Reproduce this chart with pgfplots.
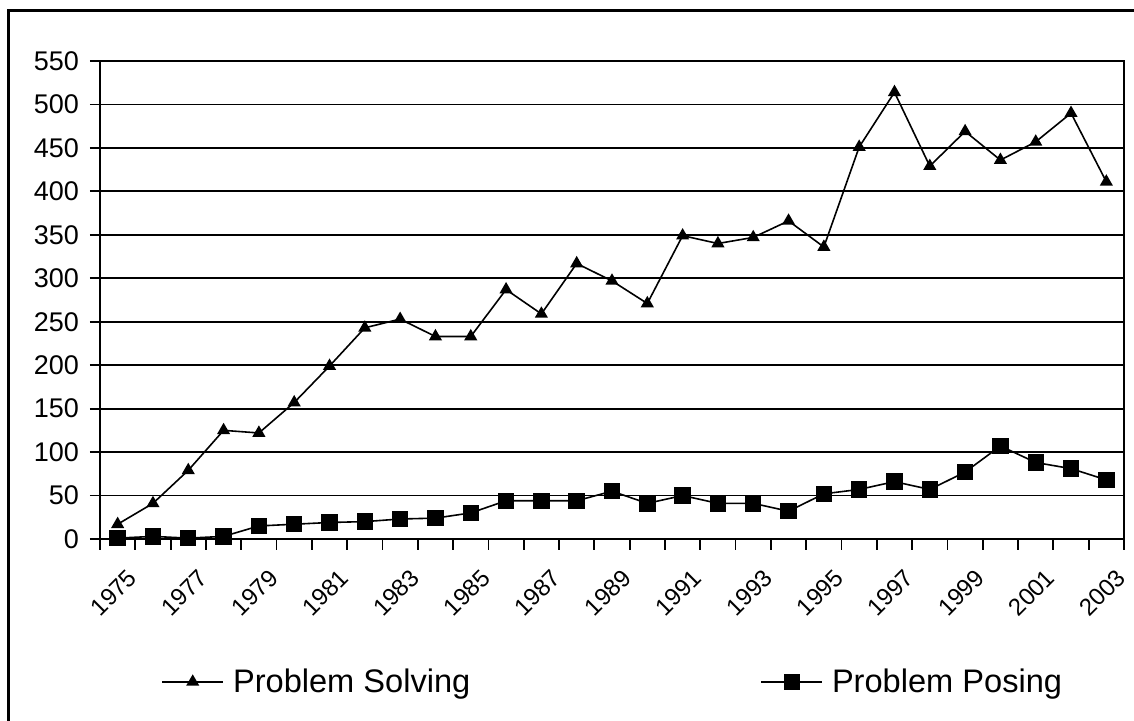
\documentclass[border=0pt]{standalone}
\usepackage{pgfplots}
\pgfplotsset{compat=1.18}
\usepackage{fontspec}
\setmainfont{Liberation Sans}
\pgfplotstableread{
i year solving posing
0 1975 17 1
1 1976 41 3
2 1977 79 1
3 1978 125 3
4 1979 122 15
5 1980 157 17
6 1981 199 19
7 1982 243 20
8 1983 253 23
9 1984 233 24
10 1985 233 30
11 1986 287 44
12 1987 259 44
13 1988 317 44
14 1989 297 55
15 1990 271 41
16 1991 349 50
17 1992 340 41
18 1993 347 41
19 1994 366 32
20 1995 336 52
21 1996 451 57
22 1997 514 66
23 1998 429 57
24 1999 469 77
25 2000 436 107
26 2001 457 88
27 2002 490 81
28 2003 411 68
}\datatable
\begin{document}
\begin{tikzpicture}
\begin{axis}[
  at={(0pt,0pt)}, anchor=south west,
  scale only axis,
  width=512pt, height=239pt,
  xmin=-0.5, xmax=28.5,
  ymin=0, ymax=550,
  ytick={0,50,...,550},
  xtick={0,2,...,28},
  xticklabels={1975,1977,1979,1981,1983,1985,1987,1989,1991,1993,1995,1997,1999,2001,2003},
  minor xtick={-0.5,0.5,...,28.5},
  xtick style={draw=none},
  minor x tick style={draw=black, line width=0.9pt},
  ytick style={draw=black, line width=0.9pt},
  tick align=outside,
  tick pos=left,
  major tick length=5pt,
  minor tick length=5.5pt,
  ymajorgrids,
  grid style={black, line width=0.9pt},
  axis line style={black, line width=0.9pt},
  /pgf/number format/assume math mode=true,
  yticklabel style={font=\fontsize{13.5}{16}\selectfont, xshift=-2pt},
  xticklabel style={font=\fontsize{12}{14}\selectfont, rotate=45, anchor=east, inner sep=0pt, yshift=-14pt, xshift=-3.3pt},
  legend columns=2,
  legend style={draw=none, fill=none, at={(rel axis cs:0.0596,-0.299)}, anchor=west,
    font=\fontsize{16.3}{19}\selectfont, inner sep=0pt, nodes={inner sep=0pt},
    /tikz/every odd column/.append style={column sep=4.5pt},
    /tikz/every even column/.append style={column sep=145pt}},
  legend image code/.code={
    \draw[black, line width=0.8pt] (0pt,0pt) -- (30.5pt,0pt);
    \draw[#1, mark repeat=1] plot coordinates {(15.25pt,0pt)};
  },
]
\addplot[black, line width=0.8pt, mark=triangle*, mark size=3pt] table[x=i, y=solving] {\datatable};
\addlegendentry{Problem Solving}
\addplot[black, line width=0.8pt, mark=square*, mark size=3.7pt] table[x=i, y=posing] {\datatable};
\addlegendentry{Problem Posing}
\end{axis}
\draw[line width=1.35pt] (-45.65pt,-95pt) -- (-45.65pt,264.25pt) -- (525pt,264.25pt);
\pgfresetboundingbox
\useasboundingbox (-50pt,-91pt) rectangle (517pt,269.5pt);
\end{tikzpicture}
\end{document}
